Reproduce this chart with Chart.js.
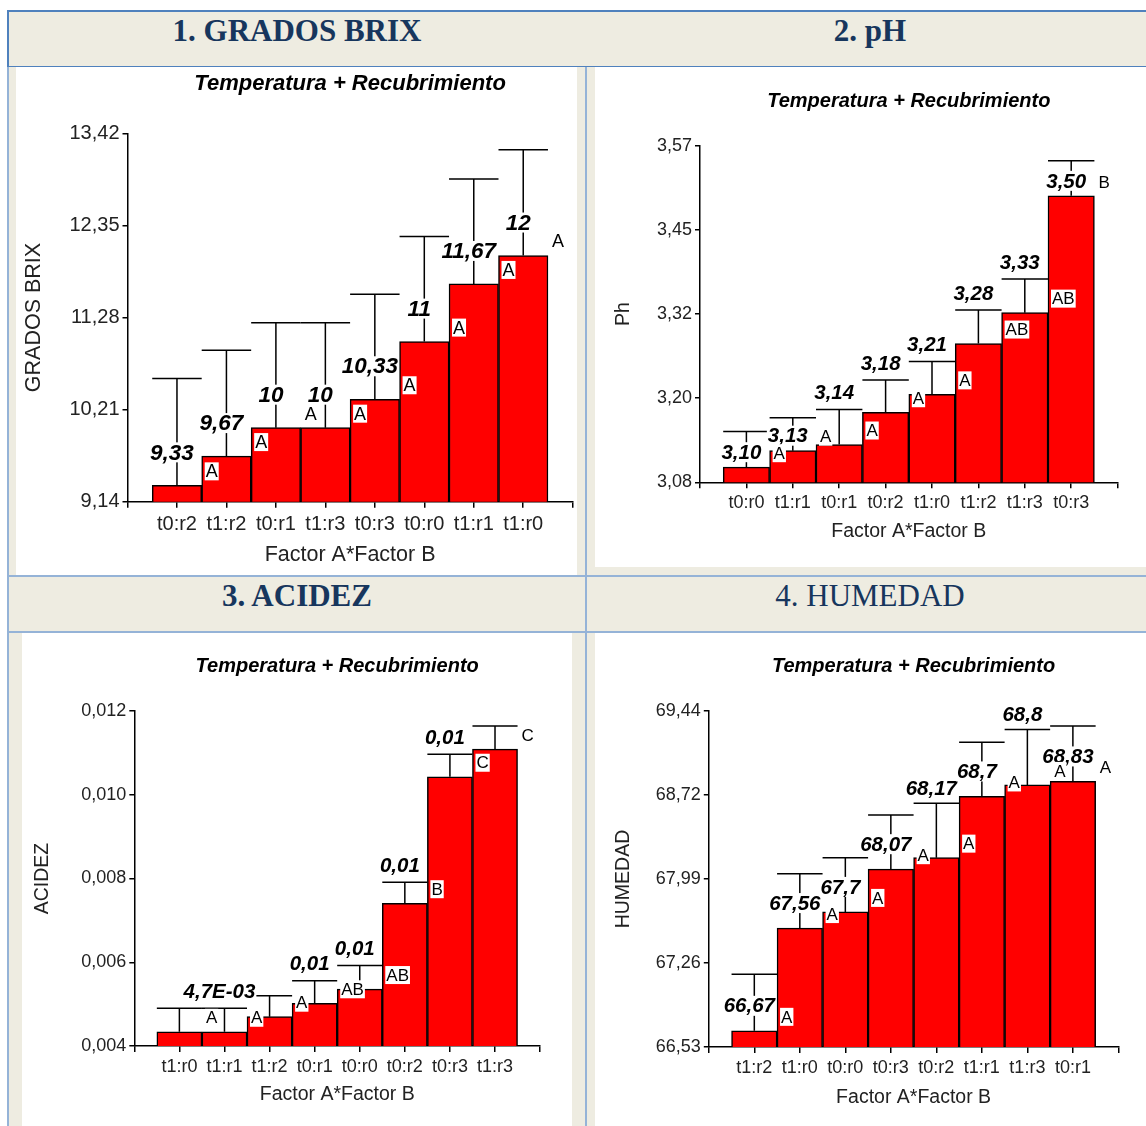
<!DOCTYPE html>
<html>
<head>
<meta charset="utf-8">
<script src="https://cdn.jsdelivr.net/npm/chart.js@4.4.1/dist/chart.umd.min.js"></script>
<style>
  body { margin: 0; background: #fff; width: 1146px; height: 1126px; overflow: hidden; position: relative; }
  .abs { position: absolute; }
  .beige { background: #EEECE1; }
  .panel { position: absolute; background: #fff; }
  .head { position: absolute; font-family: "Liberation Serif", "Times New Roman", serif; font-size: 31px; color: #17365D; text-align: center; width: 500px; line-height: 36px; }
</style>
</head>
<body>
<div class="abs beige" style="left:9px;top:12px;width:1137px;height:1114px"></div>
<div class="abs" style="left:7px;top:10px;width:1139px;height:2px;background:#4F81BD"></div>
<div class="abs" style="left:7px;top:10px;width:2px;height:57px;background:#4F81BD"></div>
<div class="abs" style="left:9px;top:66px;width:1137px;height:1px;background:#4F81BD"></div>
<div class="abs" style="left:7px;top:67px;width:2px;height:1059px;background:#95B3D7"></div>
<div class="abs" style="left:585px;top:67px;width:2px;height:1059px;background:#95B3D7"></div>
<div class="abs" style="left:9px;top:575px;width:1137px;height:2px;background:#95B3D7"></div>
<div class="abs" style="left:9px;top:631px;width:1137px;height:2px;background:#95B3D7"></div>

<div class="head" style="left:47px;top:13px;font-weight:bold">1. GRADOS BRIX</div>
<div class="head" style="left:620px;top:13px;font-weight:bold">2. pH</div>
<div class="head" style="left:47px;top:578px;font-weight:bold">3. ACIDEZ</div>
<div class="head" style="left:620px;top:578px">4. HUMEDAD</div>

<div class="panel" style="left:16px;top:67px"><canvas id="c1" width="561" height="508"></canvas></div>
<div class="panel" style="left:595px;top:67px"><canvas id="c2" width="551" height="500"></canvas></div>
<div class="panel" style="left:22px;top:633px"><canvas id="c3" width="550" height="493"></canvas></div>
<div class="panel" style="left:595px;top:633px"><canvas id="c4" width="551" height="493"></canvas></div>

<script>
// 1. Grados Brix
const brixCats = ["t0:r2", "t1:r2", "t0:r1", "t1:r3", "t0:r3", "t0:r0", "t1:r1", "t1:r0"];
const brixMeans = [9.33, 9.67, 10, 10, 10.33, 11, 11.67, 12];
const brixErr = [1.24, 1.23, 1.22, 1.22, 1.22, 1.22, 1.22, 1.23];
const brixText = ["9,33", "9,67", "10", "10", "10,33", "11", "11,67", "12"];
const brixLetters = ["A", "A", "A", "A", "A", "A", "A", "A"];
const brixTicks = ["9,14", "10,21", "11,28", "12,35", "13,42"];

// 2. pH
const phCats = ["t0:r0", "t1:r1", "t0:r1", "t0:r2", "t1:r0", "t1:r2", "t1:r3", "t0:r3"];
const phMeans = [3.102, 3.126, 3.135, 3.182, 3.208, 3.282, 3.327, 3.497];
const phErr = [0.052, 0.048, 0.051, 0.047, 0.048, 0.049, 0.049, 0.051];
const phText = ["3,10", "3,13", "3,14", "3,18", "3,21", "3,28", "3,33", "3,50"];
const phLetters = ["A", "A", "A", "A", "A", "AB", "AB", "B"];
const phTicks = ["3,08", "3,20", "3,32", "3,45", "3,57"];

// 3. Acidez
const acidCats = ["t1:r0", "t1:r1", "t1:r2", "t0:r1", "t0:r0", "t0:r2", "t0:r3", "t1:r3"];
const acidMeans = [0.00434, 0.00434, 0.0047, 0.00502, 0.00536, 0.00741, 0.01043, 0.01109];
const acidErr = [0.00056, 0.00056, 0.0005, 0.00054, 0.00056, 0.0005, 0.00054, 0.00055];
const acidText = ["", "4,7E-03", "", "0,01", "0,01", "0,01", "0,01", ""];
const acidLetters = ["A", "A", "A", "AB", "AB", "B", "C", "C"];
const acidTicks = ["0,004", "0,006", "0,008", "0,010", "0,012"];

// 4. Humedad
const humCats = ["t1:r2", "t1:r0", "t0:r0", "t0:r3", "t0:r2", "t1:r1", "t1:r3", "t0:r1"];
const humMeans = [66.67, 67.56, 67.7, 68.07, 68.17, 68.7, 68.8, 68.83];
const humErr = [0.49, 0.47, 0.47, 0.47, 0.47, 0.47, 0.48, 0.48];
const humText = ["66,67", "67,56", "67,7", "68,07", "68,17", "68,7", "68,8", "68,83"];
const humLetters = ["A", "A", "A", "A", "A", "A", "A", "A"];
const humTicks = ["66,53", "67,26", "67,99", "68,72", "69,44"];

const FONT = '"Liberation Sans", Arial, sans-serif';
Chart.defaults.font.family = FONT;
Chart.defaults.color = "#222";

const num = (s) => parseFloat(s.replace(",", "."));

function overlay(s) {
  return {
    id: "overlay",
    afterDatasetsDraw(chart) {
      const { ctx, chartArea } = chart;
      const y = chart.scales.y;
      const bars = chart.getDatasetMeta(0).data;
      ctx.save();
      ctx.fillStyle = "#000";
      ctx.textAlign = "center";
      ctx.textBaseline = "middle";
      ctx.font = "italic bold " + s.f.title + "px " + FONT;
      ctx.fillText("Temperatura + Recubrimiento", (chartArea.left + chartArea.right) / 2, s.titleY);

      // error bars (upper only)
      ctx.strokeStyle = "#000";
      ctx.lineWidth = 1.5;
      const tops = bars.map((bar, i) => y.getPixelForValue(s.means[i] + s.errs[i]));
      bars.forEach((bar, i) => {
        ctx.beginPath();
        ctx.moveTo(bar.x, bar.y);
        ctx.lineTo(bar.x, tops[i]);
        ctx.moveTo(bar.x - bar.width / 2, tops[i]);
        ctx.lineTo(bar.x + bar.width / 2, tops[i]);
        ctx.stroke();
      });

      // value labels
      ctx.font = "italic bold " + s.f.value + "px " + FONT;
      ctx.textAlign = "center";
      bars.forEach((bar, i) => {
        const t = s.texts[i];
        if (!t) return;
        const w = ctx.measureText(t).width;
        const onErr = s.anchors[i] === "err";
        const lx = bar.x - 5;
        const ly = onErr ? tops[i] - s.errLift : bar.y - s.barLift;
        ctx.fillStyle = "#fff";
        ctx.fillRect(lx - w / 2 - 1, ly - 10, w + 2, 20);
        ctx.fillStyle = "#000";
        ctx.fillText(t, lx, ly + 1);
      });

      // significance letters
      ctx.font = s.f.letter + "px " + FONT;
      ctx.textAlign = "left";
      bars.forEach((bar, i) => {
        const t = s.letters[i];
        const w = ctx.measureText(t).width;
        const lx = bar.x + bar.width / 2 + 4;
        const ly = bar.y - 14;
        ctx.fillStyle = "#fff";
        ctx.fillRect(lx - 1, ly - 9, w + 2, 18);
        ctx.fillStyle = "#000";
        ctx.fillText(t, lx, ly + 1);
      });
      ctx.restore();
    },
  };
}

function makeChart(s) {
  const yMin = num(s.ticks[0]);
  const yMax = num(s.ticks[s.ticks.length - 1]);
  new Chart(document.getElementById(s.id), {
    type: "bar",
    data: {
      datasets: [{
        data: s.means.map((v, i) => ({ x: i + 1, y: v })),
        backgroundColor: "#ff0000",
        borderColor: "#000",
        borderWidth: 1.5,
        borderSkipped: false,
        categoryPercentage: 1,
        barPercentage: 1,
      }],
    },
    options: {
      responsive: false,
      animation: false,
      events: [],
      layout: { padding: { left: 0, top: s.top, right: s.right, bottom: 0 } },
      plugins: { legend: { display: false }, tooltip: { enabled: false } },
      scales: {
        x: {
          type: "linear",
          min: 0,
          max: s.cats.length + 1,
          offset: false,
          grid: { offset: false, drawOnChartArea: false, drawTicks: true, tickLength: 6, color: "#000", lineWidth: 1.5 },
          border: { display: true, color: "#000", width: 1.5 },
          ticks: {
            stepSize: 1,
            autoSkip: false,
            maxRotation: 0,
            padding: s.tickPad,
            font: { size: s.f.tick },
            callback: (v) => s.cats[v - 1] || "",
          },
          title: { display: true, text: "Factor A*Factor B", font: { size: s.f.axis }, color: "#222", padding: { top: 0, bottom: s.xTitlePad } },
          afterFit: (sc) => { sc.height = s.xH; },
        },
        y: {
          type: "linear",
          min: yMin,
          max: yMax,
          beginAtZero: false,
          grid: { drawOnChartArea: false, drawTicks: true, tickLength: 5, color: "#000", lineWidth: 1.5 },
          border: { display: true, color: "#000", width: 1.5 },
          afterBuildTicks: (sc) => {
            const n = s.ticks.length;
            sc.ticks = s.ticks.map((t, i) => ({ value: i === n - 1 ? yMax : yMin + (i * (yMax - yMin)) / (n - 1) }));
          },
          ticks: { padding: 3, font: { size: s.f.tick }, callback: (v, i) => s.ticks[i] },
          title: { display: true, text: s.yTitle, font: { size: s.f.axis }, color: "#222", padding: { top: s.yTitlePad, bottom: 0 } },
          afterFit: (sc) => { sc.width = s.yW; },
        },
      },
    },
    plugins: [overlay(s)],
  });
}

const bigFonts = { title: 22, tick: 20, axis: 21.5, value: 22.5, letter: 18 };
const smallFonts = { title: 20, tick: 18, axis: 19.5, value: 20.5, letter: 17 };

makeChart({ id: "c1", cats: brixCats, means: brixMeans, errs: brixErr, texts: brixText, letters: brixLetters, ticks: brixTicks,
  yTitle: "GRADOS BRIX", f: bigFonts, top: 66.3, right: 3.2, yW: 111.5, xH: 73.3, titleY: 17, yTitlePad: 5.1, xTitlePad: 7.1, tickPad: 4.3,
  anchors: ["bar", "bar", "bar", "bar", "bar", "bar", "bar", "bar"], barLift: 33, errLift: 15 });
makeChart({ id: "c2", cats: phCats, means: phMeans, errs: phErr, texts: phText, letters: phLetters, ticks: phTicks,
  yTitle: "Ph", f: smallFonts, top: 78.7, right: 28.4, yW: 105, xH: 84.7, titleY: 34.7, yTitlePad: 17.3, xTitlePad: 23.6, tickPad: 3.6,
  anchors: ["bar", "bar", "err", "err", "err", "err", "err", "bar"], barLift: 15, errLift: 17 });
makeChart({ id: "c3", cats: acidCats, means: acidMeans, errs: acidErr, texts: acidText, letters: acidLetters, ticks: acidTicks,
  yTitle: "ACIDEZ", f: smallFonts, top: 78, right: 31.9, yW: 112.3, xH: 80, titleY: 33.7, yTitlePad: 8.8, xTitlePad: 19.3, tickPad: 3.9,
  anchors: ["err", "err", "err", "err", "err", "err", "err", "err"], barLift: 20, errLift: 17 });
makeChart({ id: "c4", cats: humCats, means: humMeans, errs: humErr, texts: humText, letters: humLetters, ticks: humTicks,
  yTitle: "HUMEDAD", f: smallFonts, top: 78, right: 27.6, yW: 113.8, xH: 79, titleY: 33, yTitlePad: 17.3, xTitlePad: 17, tickPad: 4.5,
  anchors: ["bar", "bar", "bar", "bar", "err", "bar", "err", "bar"], barLift: 25, errLift: 15 });
</script>
</body>
</html>
